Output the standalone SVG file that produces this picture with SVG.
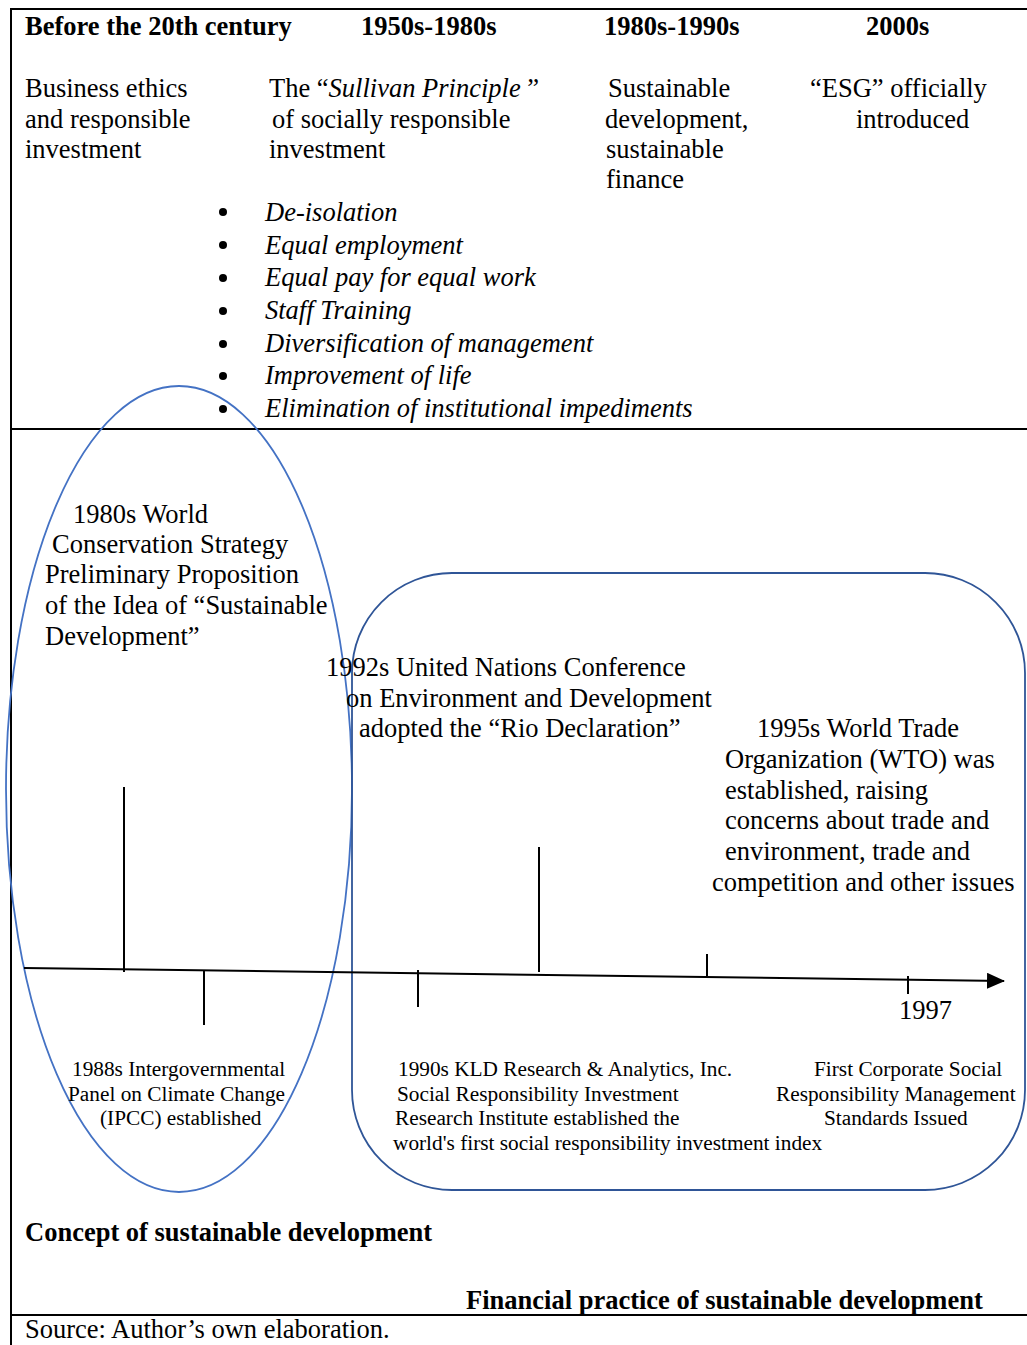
<svg xmlns="http://www.w3.org/2000/svg" width="1027" height="1345" viewBox="0 0 1027 1345">
<style>
text{font-family:"Liberation Serif","Times New Roman",serif;fill:#000}
.h{font-size:26.5px;font-weight:bold}
.b{font-size:26.5px}
.i{font-size:26.5px;font-style:italic}
.s{font-size:21.3px}
.frame{stroke:#000;stroke-width:2;fill:none}
.tick{stroke:#000;stroke-width:2;fill:none}
</style>
<defs>
<marker id="arr" markerWidth="18" markerHeight="16" refX="17" refY="8" orient="auto" markerUnits="userSpaceOnUse" viewBox="0 0 18 16">
<path d="M0,0 L18,8 L0,16 z" fill="#000"/>
</marker>
</defs>
<rect width="1027" height="1345" fill="#fff"/>
<g id="frame">
<line class="frame" x1="11" y1="9" x2="1027" y2="9"/>
<line class="frame" x1="11" y1="8" x2="11" y2="1345"/>
<line class="frame" x1="11" y1="429" x2="1027" y2="429"/>
<line class="frame" x1="11" y1="1315" x2="1027" y2="1315"/>
</g>
<g id="headers">
<text class="h" x="25" y="35">Before the 20th century</text>
<text class="h" x="361" y="35">1950s-1980s</text>
<text class="h" x="604" y="35">1980s-1990s</text>
<text class="h" x="866" y="35">2000s</text>
</g>
<g id="col1">
<text class="b" x="25" y="97">Business ethics</text>
<text class="b" x="25" y="128">and responsible</text>
<text class="b" x="25" y="158">investment</text>
</g>
<g id="col2">
<text class="b" x="269" y="97">The “<tspan font-style="italic">Sullivan Principle</tspan> ”</text>
<text class="b" x="272" y="128">of socially responsible</text>
<text class="b" x="269" y="158">investment</text>
</g>
<g id="col3">
<text class="b" x="608" y="97">Sustainable</text>
<text class="b" x="605" y="128">development,</text>
<text class="b" x="606" y="158">sustainable</text>
<text class="b" x="606" y="188">finance</text>
</g>
<g id="col4">
<text class="b" x="810" y="97">“ESG” officially</text>
<text class="b" x="856" y="128">introduced</text>
</g>
<g id="bullets">
<circle cx="223" cy="212" r="4"/>
<circle cx="223" cy="245" r="4"/>
<circle cx="223" cy="278" r="4"/>
<circle cx="223" cy="311" r="4"/>
<circle cx="223" cy="344" r="4"/>
<circle cx="223" cy="376" r="4"/>
<circle cx="223" cy="409" r="4"/>
<text class="i" x="265" y="221">De-isolation</text>
<text class="i" x="265" y="254">Equal employment</text>
<text class="i" x="265" y="286">Equal pay for equal work</text>
<text class="i" x="265" y="319">Staff Training</text>
<text class="i" x="265" y="352">Diversification of management</text>
<text class="i" x="265" y="384">Improvement of life</text>
<text class="i" x="265" y="417">Elimination of institutional impediments</text>
</g>
<g id="concept-ellipse">
<ellipse cx="179" cy="789" rx="173" ry="403" fill="none" stroke="#4472C4" stroke-width="1.8"/>
</g>
<g id="finance-box">
<rect x="352" y="573" width="673" height="617" rx="100" ry="100" fill="none" stroke="#2F5597" stroke-width="1.8"/>
</g>
<g id="connectors">
<line class="tick" x1="24" y1="968" x2="1004" y2="981" marker-end="url(#arr)"/>
<line class="tick" x1="124" y1="787" x2="124" y2="972"/>
<line class="tick" x1="204" y1="970" x2="204" y2="1025"/>
<line class="tick" x1="418" y1="970" x2="418" y2="1007"/>
<line class="tick" x1="539" y1="847" x2="539" y2="972"/>
<line class="tick" x1="707" y1="954" x2="707" y2="976"/>
<line class="tick" x1="908" y1="976" x2="908" y2="994"/>
</g>
<g id="wcs">
<text class="b" x="73" y="523">1980s World</text>
<text class="b" x="52" y="553">Conservation Strategy</text>
<text class="b" x="45" y="583">Preliminary Proposition</text>
<text class="b" x="45" y="614">of the Idea of “Sustainable</text>
<text class="b" x="45" y="645">Development”</text>
</g>
<g id="rio">
<text class="b" x="326" y="676">1992s United Nations Conference</text>
<text class="b" x="346" y="707">on Environment and Development</text>
<text class="b" x="359" y="737">adopted the “Rio Declaration”</text>
</g>
<g id="wto">
<text class="b" x="757" y="737">1995s World Trade</text>
<text class="b" x="725" y="768">Organization (WTO) was</text>
<text class="b" x="725" y="799">established, raising</text>
<text class="b" x="725" y="829">concerns about trade and</text>
<text class="b" x="725" y="860">environment, trade and</text>
<text class="b" x="712" y="891">competition and other issues</text>
</g>
<g id="y1997">
<text class="b" x="899" y="1019">1997</text>
</g>
<g id="ipcc">
<text class="s" x="72" y="1076">1988s Intergovernmental</text>
<text class="s" x="68" y="1101">Panel on Climate Change</text>
<text class="s" x="100" y="1125">(IPCC) established</text>
</g>
<g id="kld">
<text class="s" x="398" y="1076">1990s KLD Research &amp; Analytics, Inc.</text>
<text class="s" x="397" y="1101">Social Responsibility Investment</text>
<text class="s" x="395" y="1125">Research Institute established the</text>
<text class="s" x="393" y="1150">world's first social responsibility investment index</text>
</g>
<g id="csr">
<text class="s" x="814" y="1076">First Corporate Social</text>
<text class="s" x="776" y="1101">Responsibility Management</text>
<text class="s" x="824" y="1125">Standards Issued</text>
</g>
<g id="legend">
<text class="h" x="25" y="1241">Concept of sustainable development</text>
<text class="h" x="466" y="1309">Financial practice of sustainable development</text>
</g>
<g id="source">
<text class="b" x="25" y="1338">Source: Author’s own elaboration.</text>
</g>
</svg>
